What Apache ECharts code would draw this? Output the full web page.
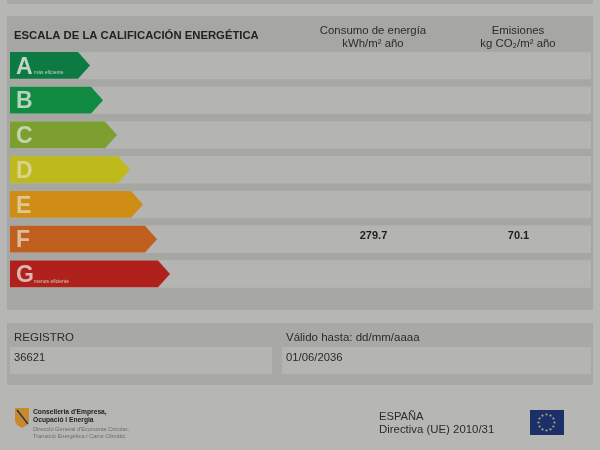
<!DOCTYPE html>
<html><head><meta charset="utf-8">
<script src="https://cdn.jsdelivr.net/npm/echarts@6/dist/echarts.min.js"></script>
<style>html,body{margin:0;padding:0;background:#b6b6b4}#c{width:600px;height:450px;filter:blur(0.5px)}</style>
</head><body><div id="c"></div>
<script>
const grades = ['A','B','C','D','E','F','G'];
const arrowLengths = [80,93,107,120,133,147,160];
const arrowColors = ['#0c7a42','#0f8a40','#7c9f30','#bfba1b','#cf8d16','#c1601e','#b1211c'];
const letterColors = ['#c2d4c4','#b6d4be','#c4d4ae','#d6d48e','#dcc890','#dcbd9e','#dcb8b4'];
const gradeNotes = ['más eficiente','','','','','','menos eficiente'];
const rowLengths = [581,581,581,581,581,581,581];
const energyValues = [null,null,null,null,null,279.7,null];
const emissionValues = [null,null,null,null,null,70.1,null];
const FONT = '"Liberation Sans",Arial,sans-serif';
const INK = '#2b2b2b';

function txt(x,y,text,size,opt){
  return {type:'text',x:x,y:y,style:Object.assign({text:text,fontFamily:FONT,fontSize:size,fill:INK,align:'left',verticalAlign:'middle'},opt||{})};
}
function box(x,y,w,h,fill){return {type:'rect',shape:{x:x,y:y,width:w,height:h},style:{fill:fill}};}

const stars = [];
for(let i=0;i<12;i++){
  const a=i*Math.PI/6;
  stars.push({type:'circle',shape:{cx:546.5+Math.sin(a)*8,cy:422.5-Math.cos(a)*8,r:1.1},style:{fill:'#aaa87a'}});
}
const graphics = [
  box(7,0,586,4,'#a8a8a4'),
  box(7,16,586,294,'#a6a6a3'),
  box(7,323,586,62,'#a8a8a5'),
  box(10,347,262,27,'#b4b4b2'),
  box(282,347,309,27,'#b4b4b2'),
  txt(14,36,'ESCALA DE LA CALIFICACIÓN ENERGÉTICA',11.3,{fontWeight:'bold',fill:'#222'}),
  txt(373,30.5,'Consumo de energía',11.4,{align:'center'}),
  txt(373,43.5,'kWh/m² año',11.4,{align:'center'}),
  txt(518,30.5,'Emisiones',11.4,{align:'center'}),
  txt(518,43.5,'kg CO₂/m² año',11.4,{align:'center'}),
  txt(14,337.5,'REGISTRO',11.5),
  txt(286,337.5,'Válido hasta: dd/mm/aaaa',11.5),
  txt(14,357.5,'36621',11.2),
  txt(286,357.5,'01/06/2036',11.3),
  txt(379,417,'ESPAÑA',11.2),
  txt(379,430,'Directiva (UE) 2010/31',11.4),
  box(530,410,34,25,'#1b3069')
].concat(stars).concat([
  {type:'polygon',shape:{points:[[15,408],[29,408],[29,421],[27,425],[22,428],[17,425],[15,421]]},style:{fill:'#c98a2c'}},
  {type:'line',shape:{x1:17,y1:410,x2:28,y2:424},style:{stroke:'#2a3a55',lineWidth:1.6}},
  txt(33,412,"Conselleria d'Empresa,",6.7,{fontWeight:'bold',fill:'#222'}),
  txt(33,420.5,'Ocupació i Energia',6.7,{fontWeight:'bold',fill:'#222'}),
  txt(33,429,"Direcció General d'Economia Circular,",5.7,{fill:'#6c6c6c'}),
  txt(33,436.5,'Transició Energètica i Canvi Climàtic.',5.7,{fill:'#6c6c6c'})
]);

const chart = echarts.init(document.getElementById('c'));
function valueCol(arr, axisX){
  return {type:'custom',coordinateSystem:'cartesian2d',z:6,
    data:arr.map((v,i)=>[axisX,i,v]),
    renderItem:function(p,api){
      const v=api.value(2);
      if(v===null||isNaN(v))return null;
      const pt=api.coord([api.value(0),api.value(1)]);
      return {type:'text',x:pt[0],y:pt[1]-3,style:{text:v.toFixed(1),fontFamily:FONT,fontSize:11,fontWeight:'bold',fill:'#1e1e1e',align:'center',verticalAlign:'middle'}};
    }};
}
chart.setOption({
  animation:false,
  backgroundColor:'#b6b6b4',
  graphic:{elements:graphics},
  grid:{left:10,top:48,width:581,height:243.25,containLabel:false},
  xAxis:{type:'value',min:0,max:581,show:false},
  yAxis:{type:'category',data:grades,inverse:true,show:false},
  series:[
    {type:'bar',data:rowLengths,barWidth:27.5,itemStyle:{color:'#b4b4b2'},z:2,silent:true},
    {type:'custom',z:4,coordinateSystem:'cartesian2d',
      data:arrowLengths.map((v,i)=>[v,i]),
      renderItem:function(p,api){
        const i=p.dataIndex;
        const s=api.coord([0,i]), e=api.coord([api.value(0),i]);
        const h=api.size([0,1])[1]*0.775, t=s[1]-h/2, b=s[1]+h/2, head=12;
        const kids=[{type:'polygon',shape:{points:[[s[0],t],[e[0]-head,t],[e[0],s[1]],[e[0]-head,b],[s[0],b]]},style:{fill:arrowColors[i]}},
          {type:'text',x:s[0]+6,y:s[1]+2,style:{text:grades[i],fontFamily:FONT,fontSize:23,fill:letterColors[i],align:'left',verticalAlign:'middle',fontWeight:'bold'}}];
        if(gradeNotes[i])kids.push({type:'text',x:s[0]+24,y:s[1]+7.5,style:{text:gradeNotes[i],fontFamily:FONT,fontSize:5,fill:'#c8d0c0',align:'left',verticalAlign:'middle'}});
        return {type:'group',children:kids};
      }},
    valueCol(energyValues,363.5),
    valueCol(emissionValues,508.5)
  ]
});
</script></body></html>
